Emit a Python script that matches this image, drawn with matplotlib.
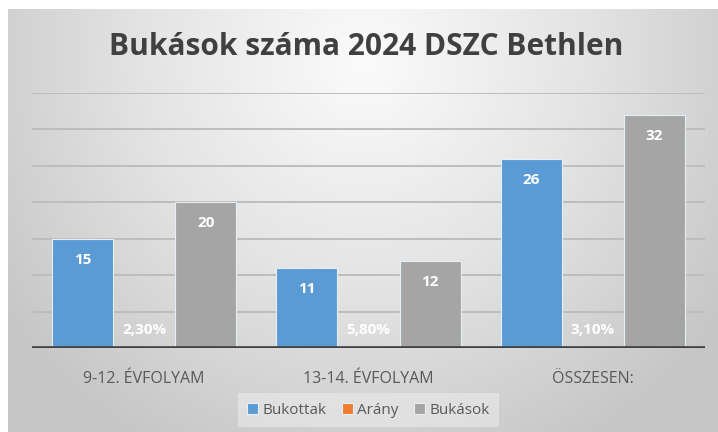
import numpy as np
import matplotlib.pyplot as plt
from matplotlib.colors import LinearSegmentedColormap

categories = ["9-12. ÉVFOLYAM", "13-14. ÉVFOLYAM", "ÖSSZESEN:"]
bukottak = [15, 11, 26]
arany = [0.023, 0.058, 0.031]
bukasok = [20, 12, 32]
series_names = ["Bukottak", "Arány", "Bukások"]
colors = ["#5B9BD5", "#ED7D31", "#A5A5A5"]

W, H = 718, 432
fig = plt.figure(figsize=(W / 100, H / 100), dpi=100)
fig.patch.set_facecolor("white")

# radial gradient chart background
bg = fig.add_axes([8 / W, 0, (W - 8) / W, (H - 9) / H])
bg.set_axis_off()
ny, nx = 220, 360
yy, xx = np.mgrid[0:ny, 0:nx]
cx, cy = nx * 0.5, ny * 0.12
r = np.sqrt(((xx - cx) / (nx * 0.62)) ** 2 + ((yy - cy) / (ny * 1.05)) ** 2)
r = np.clip(r, 0, 1)
cmap = LinearSegmentedColormap.from_list("g", ["#fbfbfb", "#e4e4e4", "#c6c6c6"])
bg.imshow(r, cmap=cmap, aspect="auto", extent=[0, 1, 0, 1], origin="upper", vmin=0, vmax=1)
bg.set_xlim(0, 1)
bg.set_ylim(0, 1)

ax = fig.add_axes([32 / W, (H - 348) / H, (705 - 32) / W, (348 - 93) / H])
ax.set_facecolor("none")
ax.set_xlim(-0.5, 2.5)
ax.set_ylim(0, 35)
ax.set_yticks(np.arange(0, 36, 5))
ax.grid(axis="y", color="#bdbdbd", linewidth=1.4)
ax.set_axisbelow(True)
for s in ax.spines.values():
    s.set_visible(False)
ax.axhline(0, color="#404040", linewidth=2.6, zorder=5)
ax.tick_params(axis="y", left=False, labelleft=False)
ax.tick_params(axis="x", bottom=False, pad=13, labelsize=11.5, labelcolor="#595959")

x = np.arange(len(categories))
width = 0.272
offsets = [-0.275, 0, 0.275]
data = [bukottak, arany, bukasok]

for vals, off, col, name in zip(data, offsets, colors, series_names):
    bars = ax.bar(x + off, vals, width, color=col, label=name,
                  edgecolor="#e6eef7", linewidth=0.8, zorder=3)
    for b, v in zip(bars, vals):
        if v < 1:
            txt = f"{v * 100:.2f}%".replace(".", ",")
            ax.annotate(txt, (b.get_x() + b.get_width() / 2, 0), xytext=(0, 18),
                        textcoords="offset pixels", ha="center", va="center",
                        color="white", fontsize=11, fontweight="bold",
                        family="Open Sans", zorder=6)
        else:
            ax.annotate(str(v), (b.get_x() + b.get_width() / 2, v), xytext=(0, -21),
                        textcoords="offset pixels", ha="center", va="center",
                        color="white", fontsize=11, fontweight="bold",
                        family="Open Sans", zorder=6)

ax.set_xticks(x)
ax.set_xticklabels(categories, family="Open Sans")

fig.text(0.5 + 7 / W, 1 - 47 / H, "Bukások száma 2024 DSZC Bethlen", ha="center", va="center",
         fontsize=21.5, fontweight="bold", color="#404040", family="Open Sans")

leg = ax.legend(loc="center", bbox_to_anchor=(0.5, -62 / 255), ncol=3, frameon=True,
                handlelength=0.7, handleheight=0.7, handletextpad=0.3,
                columnspacing=1.0, borderpad=0.45, prop={"family": "Open Sans", "size": 11})
leg.get_frame().set_facecolor("#ebebeb")
leg.get_frame().set_alpha(0.6)
leg.get_frame().set_edgecolor("none")
leg.get_frame().set_boxstyle("square", pad=0.2)
for t in leg.get_texts():
    t.set_color("#595959")

fig.savefig("out.png", dpi=100)
